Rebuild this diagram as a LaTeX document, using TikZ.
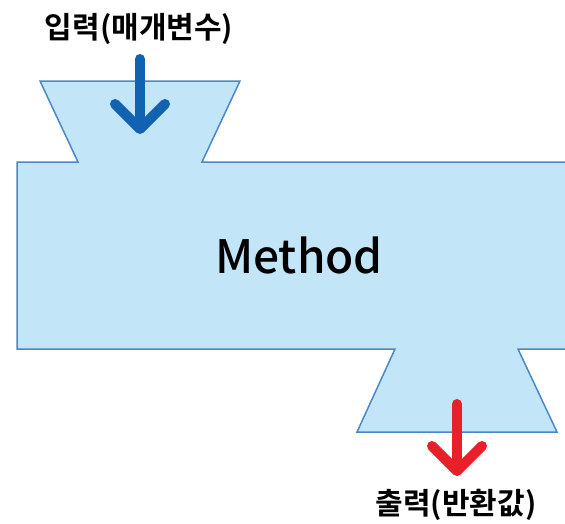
\documentclass[tikz,border=0pt]{standalone}
\usepackage{fontspec}
\setmainfont{Noto Sans CJK KR}
\newfontfamily\labelfont{Noto Sans CJK KR Bold}
\newfontfamily\namefont{Noto Sans CJK KR Medium}
\usetikzlibrary{arrows.meta}
\definecolor{boxfill}{HTML}{C2E5F8}
\definecolor{boxline}{HTML}{4A88C8}
\definecolor{inblue}{HTML}{1162B0}
\definecolor{outred}{HTML}{E8202A}
\tikzset{
  flow/.style={line width=10pt, line cap=round,
    -{Straight Barb[length=25pt, width=50pt, line cap=round, line join=round]}},
}
\begin{document}
\begin{tikzpicture}[x=1pt, y=-1pt]
  \useasboundingbox (0,0) rectangle (565,523);
  \clip (0,0) rectangle (565,523);
  % body with the two funnels
  \draw[fill=boxfill, draw=boxline, line width=1.5pt, line join=miter]
    (17,162) -- (78,162) -- (40,81) -- (240,81) -- (202,162) -- (580,162)
    -- (580,349) -- (518,349) -- (557,432) -- (357,432) -- (395,349)
    -- (17,349) -- cycle;
  \node[font=\namefont\fontsize{46}{50}\selectfont] (method) at (299,255) {Method};
  \node[font=\labelfont\fontsize{30}{33}\selectfont] (inlabel) at (139,29) {입력(매개변수)};
  \node[font=\labelfont\fontsize{30}{33}\selectfont] (outlabel) at (456,505) {출력(반환값)};
  \coordinate (instart) at (140,59);
  \coordinate (inend) at (140,134);
  \coordinate (outstart) at (457,404);
  \coordinate (outend) at (457,476);
  \draw[flow, inblue] (instart) -- (inend);
  \draw[flow, outred] (outstart) -- (outend);
\end{tikzpicture}
\end{document}
